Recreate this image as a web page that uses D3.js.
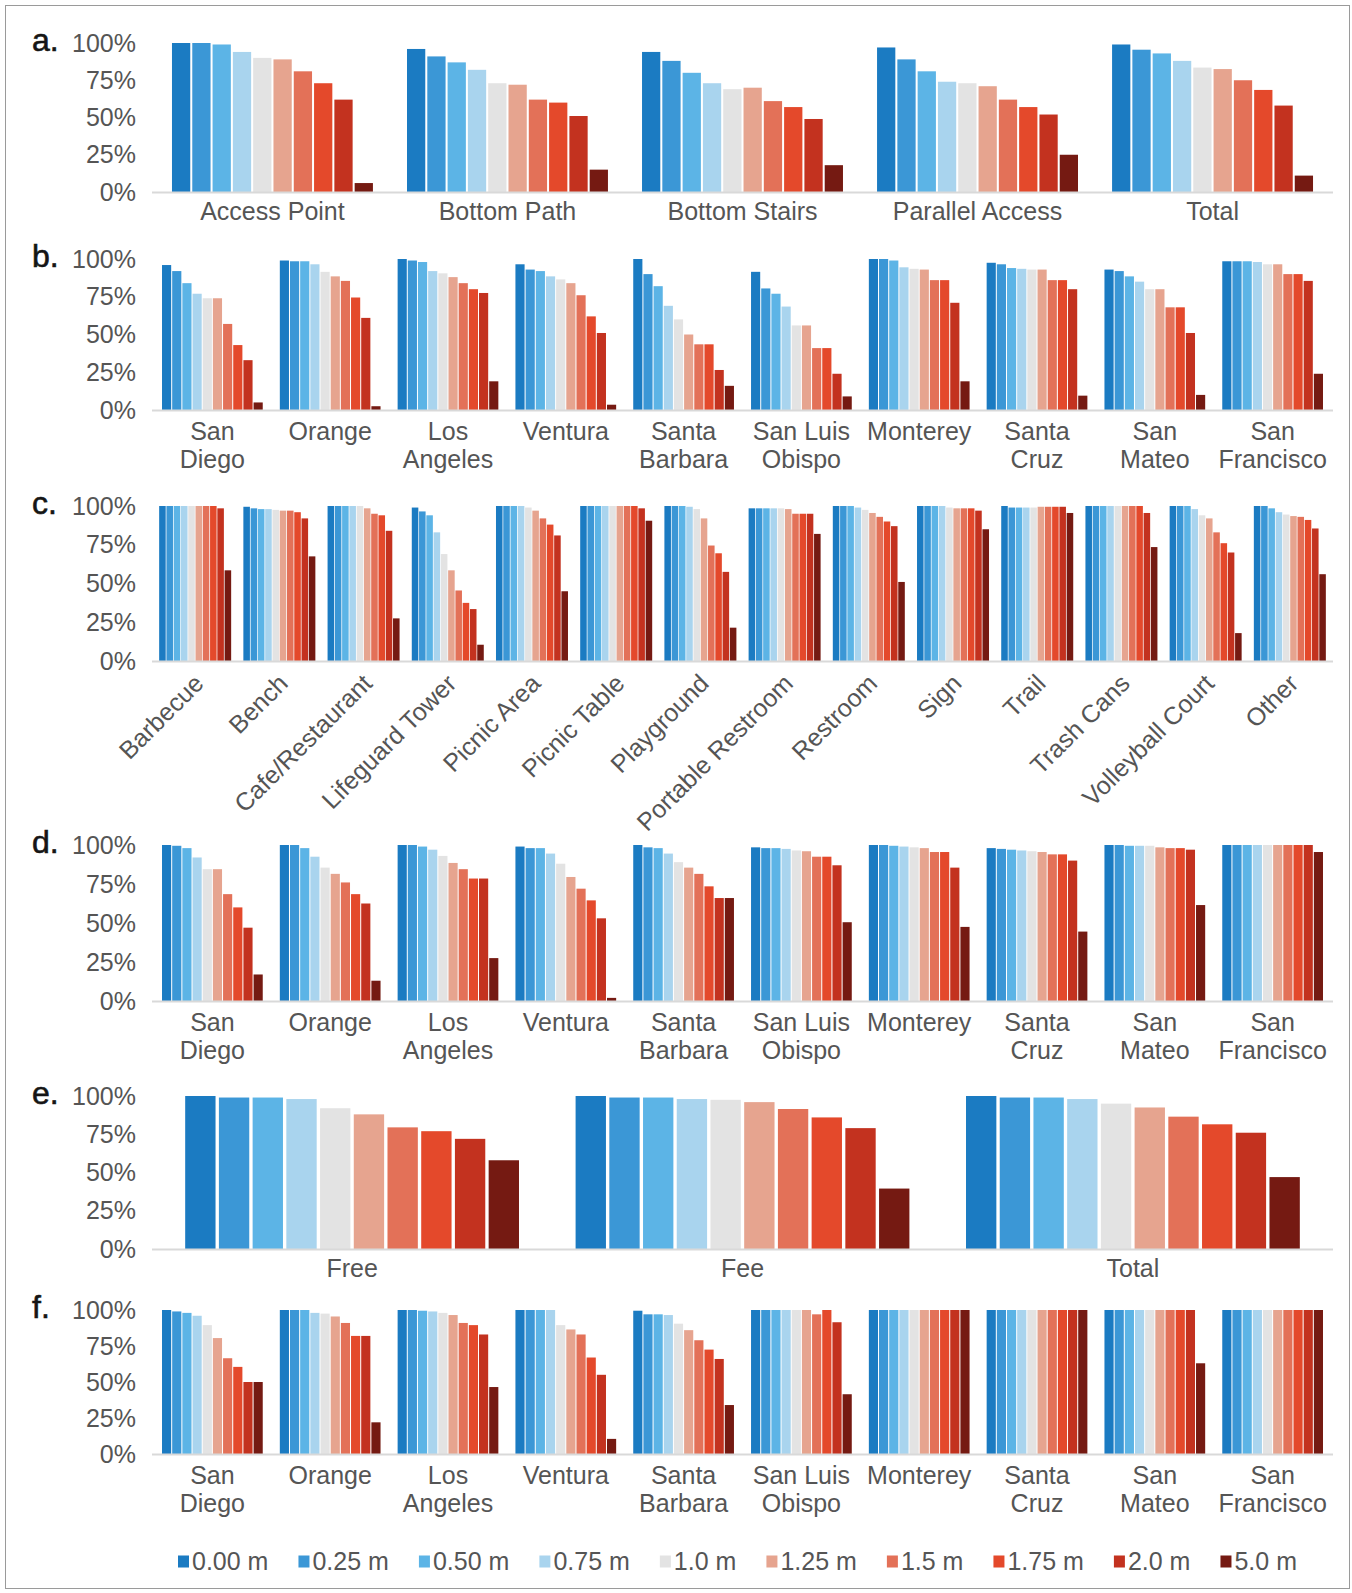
<!DOCTYPE html>
<html>
<head>
<meta charset="utf-8">
<script src="https://cdn.jsdelivr.net/npm/d3@7"></script>
<style>
  html, body { margin: 0; padding: 0; background: #fff; }
  svg text { font-family: "Liberation Sans", Arial, sans-serif; }
</style>
</head>
<body>
<svg id="chart" width="1352" height="1593"></svg>
<script>
// Sea-level scenarios (legend order) and their colours
const scenarios = ["0.00 m", "0.25 m", "0.50 m", "0.75 m", "1.0 m", "1.25 m", "1.5 m", "1.75 m", "2.0 m", "5.0 m"];
const scenarioColors = ["#1b7bc2", "#3b97d6", "#5cb4e6", "#a9d4ee", "#e3e3e3", "#e6a48f", "#e37158", "#e4492b", "#c3321f", "#751a12"];
const yTickValues = [0, 25, 50, 75, 100];

// a. access type
const accessTypes = ["Access Point", "Bottom Path", "Bottom Stairs", "Parallel Access", "Total"];
const accessValues = [
  [100, 100, 99, 94, 90, 89, 81, 73, 62, 6],
  [96, 91, 87, 82, 73, 72, 62, 60, 51, 15],
  [94, 88, 80, 73, 69, 70, 61, 57, 49, 18],
  [97, 89, 81, 74, 73, 71, 62, 57, 52, 25],
  [99, 95.5, 93, 88, 83.5, 82.5, 75, 68.5, 58, 11]
];

// counties (b, d, f)
const counties = ["San Diego", "Orange", "Los Angeles", "Ventura", "Santa Barbara", "San Luis Obispo", "Monterey", "Santa Cruz", "San Mateo", "San Francisco"];
const countyLines = [["San", "Diego"], ["Orange"], ["Los", "Angeles"], ["Ventura"], ["Santa", "Barbara"], ["San Luis", "Obispo"], ["Monterey"], ["Santa", "Cruz"], ["San", "Mateo"], ["San", "Francisco"]];

const countyAccessValues = [
  [96, 92, 84, 77, 74, 74, 57, 43, 33, 5],
  [99, 98.5, 98.5, 96.5, 91.5, 88.5, 85.5, 74.5, 61, 2.5],
  [100, 99, 98, 92, 90.5, 88, 84, 80, 77.5, 19],
  [96.5, 93, 92, 88.5, 86.5, 84, 76, 62, 51, 3.5],
  [100, 90, 82, 69, 60, 50, 43.5, 43.5, 26.5, 16],
  [91.5, 80.5, 77, 68.5, 56, 56, 41, 41, 24, 9],
  [100, 100, 99, 94.5, 93.5, 93, 86, 86, 71, 19],
  [97.5, 96.5, 94, 93.5, 93, 93, 86, 86, 80, 9.5],
  [93, 92, 88.5, 85, 80, 80, 68, 68, 51, 10],
  [98.5, 98.5, 98.5, 98, 96.5, 96.5, 90, 90, 85.5, 24]
];

// c. amenities
const amenities = ["Barbecue", "Bench", "Cafe/Restaurant", "Lifeguard Tower", "Picnic Area", "Picnic Table", "Playground", "Portable Restroom", "Restroom", "Sign", "Trail", "Trash Cans", "Volleyball Court", "Other"];
const amenityValues = [
  [100, 100, 100, 100, 100, 100, 100, 100, 98.5, 58.5],
  [99.5, 98.5, 98, 98, 97.5, 97, 97, 96, 92, 67.5],
  [100, 100, 100, 100, 100, 98.5, 95, 94, 84, 27.5],
  [99, 96.5, 94, 83, 69, 58.5, 45.5, 37.5, 33.5, 10.5],
  [100, 100, 100, 100, 99, 97, 92, 88, 81, 45],
  [100, 100, 100, 100, 100, 100, 100, 100, 98.5, 90.5],
  [100, 100, 100, 99.5, 98, 92, 74.5, 69.5, 57.5, 21.5],
  [98.5, 98.5, 98.5, 98.5, 98.5, 98, 95, 95, 95, 82],
  [100, 100, 100, 99, 97.5, 95.5, 93, 90, 87, 51],
  [100, 100, 100, 100, 99, 98.5, 98.5, 98.5, 97, 85],
  [100, 99, 99, 99, 99, 99.5, 99.5, 99.5, 99.5, 95.5],
  [100, 100, 100, 100, 100, 100, 100, 100, 95.5, 73.5],
  [100, 100, 100, 98, 94, 92, 83, 76, 70, 18],
  [100, 100, 98.5, 96, 94.5, 93.5, 93, 91, 85.5, 56]
];

// d. amenities by county
const countyAmenityValues = [
  [100, 99.5, 98, 92, 84.5, 84.5, 68.5, 60, 47, 17],
  [100, 100, 98, 92.5, 85.5, 81.5, 76, 68.5, 62.5, 13],
  [100, 100, 99, 97, 93, 88.5, 84.5, 78.5, 78.5, 27.5],
  [99, 98, 98, 94.5, 88, 79.5, 72, 64.5, 53, 2],
  [100, 98.5, 98, 94.5, 89, 85.5, 81.5, 73.5, 66, 66],
  [98.5, 98, 98, 97.5, 96.5, 96, 92.5, 92.5, 87, 50.5],
  [100, 100, 99.5, 99, 98.5, 98, 95.5, 95.5, 85.5, 47.5],
  [98, 97.5, 97, 96.5, 96, 95.5, 94, 94, 90, 44.5],
  [100, 100, 99.5, 99.5, 99.5, 98.5, 98, 98, 97, 61.5],
  [100, 100, 100, 100, 100, 100, 100, 100, 100, 95.5]
];

// e. parking
const parkingTypes = ["Free", "Fee", "Total"];
const parkingValues = [
  [100, 99, 99, 98, 92, 88, 79.5, 77, 72, 58],
  [100, 99, 99, 98, 97.5, 96, 91.5, 86, 79, 39.5],
  [100, 99, 99, 98, 95, 92.5, 86.5, 81.5, 76, 47]
];

// f. parking by county
const countyParkingValues = [
  [100, 99, 98, 96, 89.5, 80.5, 66.5, 60.5, 50, 50],
  [100, 100, 100, 98, 97.5, 95.5, 91, 82, 82, 22],
  [100, 100, 99.5, 99, 98, 96.5, 91, 89.5, 83, 46.5],
  [100, 100, 100, 100, 89.5, 86.5, 83, 67, 55, 10.5],
  [99.5, 97, 97, 96.5, 90.5, 86, 79, 72.5, 66, 34],
  [100, 100, 100, 100, 100, 100, 97, 100, 91.5, 41.5],
  [100, 100, 100, 100, 100, 100, 100, 100, 100, 100],
  [100, 100, 100, 100, 100, 100, 100, 100, 100, 100],
  [100, 100, 100, 100, 100, 100, 100, 100, 100, 63],
  [100, 100, 100, 100, 100, 100, 100, 100, 100, 100]
];

const svg = d3.select("#chart");
const textColor = "#555555";
const fontSize = 25;

// outer frame
svg.append("rect")
  .attr("x", 5.5).attr("y", 5.5)
  .attr("width", 1344).attr("height", 1583)
  .attr("fill", "none").attr("stroke", "#9a9a9a").attr("stroke-width", 1);

const plotLeft = 152, plotRight = 1333;

const panels = [
  { letter: "a.", top: 43, base: 192, cats: accessTypes, vals: accessValues, labels: "single" },
  { letter: "b.", top: 259, base: 410, cats: counties, vals: countyAccessValues, labels: "county" },
  { letter: "c.", top: 506, base: 661, cats: amenities, vals: amenityValues, labels: "rotated" },
  { letter: "d.", top: 845, base: 1001, cats: counties, vals: countyAmenityValues, labels: "county" },
  { letter: "e.", top: 1096, base: 1249, cats: parkingTypes, vals: parkingValues, labels: "single" },
  { letter: "f.", top: 1310, base: 1454, cats: counties, vals: countyParkingValues, labels: "county" }
];

panels.forEach(p => {
  const g = svg.append("g");
  const y = d3.scaleLinear().domain([0, 100]).range([p.base, p.top]);
  const x0 = d3.scaleBand().domain(p.cats).range([plotLeft, plotRight])
    .paddingInner(0.145).paddingOuter(0.085);
  const x1 = d3.scaleBand().domain(scenarios).range([0, x0.bandwidth()])
    .paddingInner(0.1).paddingOuter(0);

  // panel letter
  g.append("text")
    .attr("x", 32).attr("y", y(100) - 3)
    .attr("dy", "0.35em")
    .attr("font-size", 32)
    .attr("fill", "#151515")
    .attr("stroke", "#151515").attr("stroke-width", 0.6)
    .text(p.letter);

  // y axis tick labels
  const yAxis = d3.axisLeft(y).tickValues(yTickValues).tickSize(0).tickPadding(0)
    .tickFormat(d => d + "%");
  const ag = g.append("g").attr("transform", "translate(136,0)").call(yAxis);
  ag.select(".domain").remove();
  ag.selectAll("text")
    .attr("font-size", fontSize)
    .attr("font-family", "Liberation Sans, Arial, sans-serif")
    .attr("fill", textColor);

  // bars
  const groups = g.selectAll("g.grp").data(p.cats.map((c, i) => ({ cat: c, vals: p.vals[i] })))
    .join("g").attr("class", "grp")
    .attr("transform", d => `translate(${x0(d.cat)},0)`);
  groups.selectAll("rect")
    .data(d => d.vals.map((v, j) => ({ s: scenarios[j], v, j })))
    .join("rect")
    .attr("x", d => x1(d.s))
    .attr("width", x1.bandwidth())
    .attr("y", d => y(d.v))
    .attr("height", d => y(0) - y(d.v))
    .attr("fill", d => scenarioColors[d.j]);

  // baseline
  g.append("line")
    .attr("x1", plotLeft).attr("x2", plotRight)
    .attr("y1", y(0) + 0.5).attr("y2", y(0) + 0.5)
    .attr("stroke", "#d9d9d9").attr("stroke-width", 2);

  // category labels
  const lg = g.append("g").attr("fill", textColor).attr("font-size", fontSize);
  p.cats.forEach((c, i) => {
    const cx = x0(c) + x0.bandwidth() / 2;
    if (p.labels === "single") {
      lg.append("text").attr("x", cx).attr("y", y(0) + 28)
        .attr("text-anchor", "middle").text(c);
    } else if (p.labels === "county") {
      const lines = countyLines[counties.indexOf(c)];
      lines.forEach((ln, k) => {
        lg.append("text").attr("x", cx).attr("y", y(0) + 30 + k * 28)
          .attr("text-anchor", "middle").text(ln);
      });
    } else {
      lg.append("text")
        .attr("text-anchor", "end")
        .attr("transform", `translate(${cx + 10},${y(0) + 24}) rotate(-45)`)
        .text(c);
    }
  });
});

// legend
const legend = svg.append("g").attr("font-size", fontSize).attr("fill", textColor);
const legendY = 1561, legendStart = 178, legendEnd = 1297, swatch = 11, swatchGap = 3;
const items = scenarios.map((s, i) => {
  const t = legend.append("text").attr("y", legendY).attr("dy", "0.35em").text(s);
  return { s, i, t, w: t.node().getComputedTextLength() };
});
const used = d3.sum(items, d => swatch + swatchGap + d.w);
const gap = (legendEnd - legendStart - used) / (items.length - 1);
let cursor = legendStart;
items.forEach(d => {
  legend.append("rect")
    .attr("x", cursor).attr("y", legendY - swatch / 2)
    .attr("width", swatch).attr("height", swatch + 1)
    .attr("fill", scenarioColors[d.i]);
  d.t.attr("x", cursor + swatch + swatchGap);
  cursor += swatch + swatchGap + d.w + gap;
});
</script>
</body>
</html>
